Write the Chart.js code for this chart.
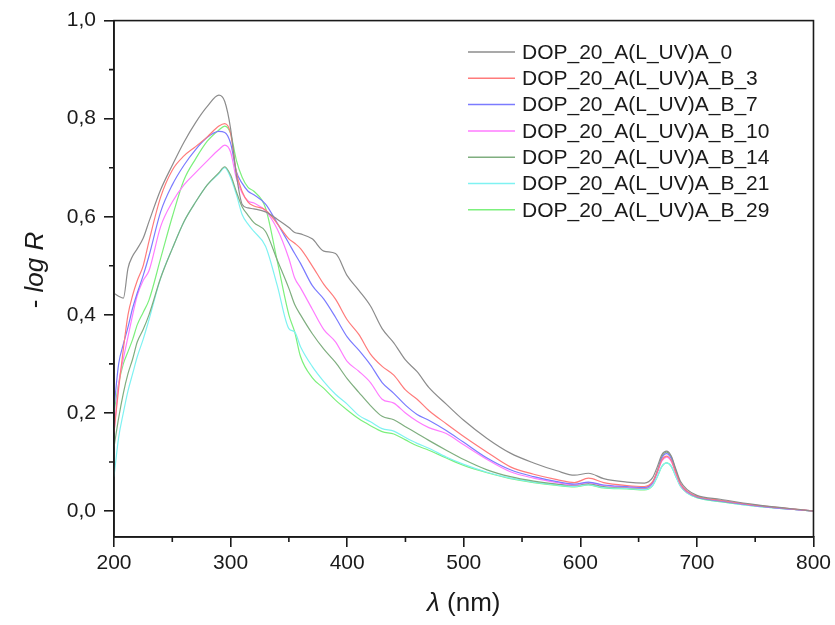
<!DOCTYPE html>
<html lang="en">
  <head>
    <meta charset="UTF-8" />
    <title>-log R spectra</title>
    <script src="https://cdn.jsdelivr.net/npm/chart.js"></script>
    <style>
      body {
        margin: 0;
        background: #fff;
      }
      #chart {
        display: block;
      }
    </style>
  </head>
  <body>
    <canvas id="chart" width="835" height="625"></canvas>

    <script>
      // wavelength grid (nm), shared by all series
      const wavelengths = [
        200, 204, 208, 212, 216, 220, 225, 230, 240, 250, 260, 270, 280, 290, 295, 300,
        305, 310, 315, 320, 330, 340, 350, 355, 360, 370, 380, 390, 400, 410, 420, 430,
        440, 450, 460, 470, 485, 500, 520, 540, 560, 580, 595, 607, 620, 640, 655, 662,
        666, 670, 674, 678, 682, 686, 692, 700, 720, 750, 800,
      ];

      const seriesNames = [
        "DOP_20_A(L_UV)A_0",
        "DOP_20_A(L_UV)A_B_3",
        "DOP_20_A(L_UV)A_B_7",
        "DOP_20_A(L_UV)A_B_10",
        "DOP_20_A(L_UV)A_B_14",
        "DOP_20_A(L_UV)A_B_21",
        "DOP_20_A(L_UV)A_B_29",
      ];

      const a0 = [
        0.444, 0.438, 0.434, 0.495, 0.52, 0.535, 0.556, 0.59, 0.655, 0.705, 0.752, 0.792, 0.825, 0.848, 0.835, 0.78,
        0.685, 0.625, 0.618, 0.616, 0.61, 0.595, 0.578, 0.568, 0.565, 0.555, 0.53, 0.525, 0.48, 0.45, 0.418, 0.372,
        0.343, 0.308, 0.284, 0.252, 0.218, 0.185, 0.148, 0.118, 0.098, 0.082, 0.073, 0.077, 0.066, 0.059, 0.057, 0.068,
        0.09, 0.115, 0.122, 0.112, 0.085, 0.06, 0.043, 0.032, 0.024, 0.013, 0.0,
      ];
      const b3 = [
        0.16, 0.25, 0.33, 0.4, 0.44, 0.47, 0.5, 0.55, 0.64, 0.695, 0.724, 0.743, 0.763, 0.785, 0.79, 0.77,
        0.69, 0.651, 0.63, 0.622, 0.614, 0.586, 0.555, 0.546, 0.535, 0.5, 0.462, 0.432, 0.39, 0.36, 0.32, 0.295,
        0.277, 0.247, 0.228, 0.205, 0.178, 0.152, 0.12, 0.09, 0.075, 0.064, 0.058, 0.067, 0.058, 0.052, 0.05, 0.06,
        0.08, 0.104, 0.112, 0.103, 0.078, 0.055, 0.04, 0.03, 0.022, 0.012, 0.0,
      ];
      const b7 = [
        0.21, 0.3, 0.34, 0.375, 0.414, 0.445, 0.48, 0.52, 0.61, 0.665, 0.705, 0.737, 0.762, 0.774, 0.772, 0.75,
        0.692, 0.668, 0.652, 0.645, 0.626, 0.587, 0.546, 0.525, 0.505, 0.46, 0.432, 0.395, 0.355, 0.328, 0.298, 0.262,
        0.24, 0.216, 0.197, 0.185, 0.164, 0.14, 0.108, 0.084, 0.07, 0.06, 0.055, 0.059, 0.053, 0.05, 0.048, 0.058,
        0.08, 0.108, 0.117, 0.107, 0.08, 0.055, 0.039, 0.029, 0.021, 0.011, 0.0,
      ];
      const b10 = [
        0.16, 0.26, 0.31, 0.355, 0.4, 0.44, 0.47, 0.49, 0.58, 0.63, 0.665, 0.69, 0.714, 0.737, 0.746, 0.732,
        0.678, 0.648, 0.632, 0.628, 0.612, 0.575, 0.515, 0.475, 0.455, 0.412, 0.37, 0.345, 0.305, 0.285, 0.262, 0.228,
        0.22, 0.2, 0.183, 0.17, 0.158, 0.135, 0.105, 0.08, 0.067, 0.058, 0.053, 0.058, 0.052, 0.049, 0.047, 0.057,
        0.078, 0.102, 0.11, 0.101, 0.076, 0.053, 0.038, 0.029, 0.021, 0.011, 0.0,
      ];
      const b14 = [
        0.13, 0.19, 0.24, 0.28, 0.31, 0.345, 0.37, 0.4, 0.475, 0.535, 0.59, 0.63, 0.665, 0.69, 0.702, 0.685,
        0.651, 0.62, 0.603, 0.588, 0.57, 0.512, 0.454, 0.421, 0.4, 0.362, 0.33, 0.303, 0.27, 0.242, 0.215, 0.193,
        0.186, 0.172, 0.158, 0.144, 0.124, 0.105, 0.084, 0.07, 0.061, 0.055, 0.052, 0.056, 0.05, 0.048, 0.046, 0.058,
        0.082, 0.111, 0.12, 0.11, 0.082, 0.054, 0.038, 0.028, 0.02, 0.011, 0.0,
      ];
      const b21 = [
        0.07, 0.15, 0.2, 0.245, 0.28, 0.315, 0.35, 0.39, 0.475, 0.535, 0.59, 0.63, 0.665, 0.688, 0.7, 0.68,
        0.645, 0.604, 0.585, 0.57, 0.54, 0.46, 0.372, 0.365, 0.335, 0.295, 0.264, 0.238, 0.218, 0.195, 0.182, 0.168,
        0.163, 0.15, 0.138, 0.128, 0.11, 0.095, 0.079, 0.067, 0.059, 0.053, 0.05, 0.054, 0.048, 0.046, 0.044, 0.052,
        0.07, 0.091, 0.098, 0.091, 0.07, 0.05, 0.036, 0.027, 0.019, 0.01, 0.0,
      ];
      const b29 = [
        0.2, 0.26, 0.3, 0.325, 0.35, 0.38, 0.405, 0.43, 0.515, 0.6, 0.675, 0.718, 0.754, 0.777, 0.785, 0.77,
        0.715, 0.68, 0.66, 0.652, 0.618, 0.51, 0.4, 0.365, 0.315, 0.272, 0.25, 0.226, 0.206, 0.188, 0.174, 0.162,
        0.157, 0.145, 0.133, 0.124, 0.108, 0.093, 0.078, 0.066, 0.058, 0.052, 0.049, 0.053, 0.047, 0.045, 0.043, 0.052,
        0.07, 0.091, 0.098, 0.091, 0.07, 0.05, 0.036, 0.027, 0.019, 0.01, 0.0,
      ];

      const allSeries = [a0, b3, b7, b10, b14, b21, b29];
      const lineColors = ["#8c8c8c", "#ff7b7b", "#7b7bff", "#ff7bff", "#7fae7f", "#7ff2f2", "#7cf07c"];

      const xTicks = [200, 300, 400, 500, 600, 700, 800];
      const xMinorTicks = [250, 350, 450, 550, 650, 750];
      const yTicks = [0, 0.2, 0.4, 0.6, 0.8, 1.0];
      const yMinorTicks = [0.1, 0.3, 0.5, 0.7, 0.9];

      const FONT = '"Liberation Sans", Arial, sans-serif';
      const INK = "#1a1a1a";

      // frame, minor ticks, axis titles and legend
      const decorPlugin = {
        id: "decor",
        afterDraw(chart) {
          const { ctx, chartArea: a } = chart;
          const x = chart.scales.x;
          const y = chart.scales.y;
          ctx.save();
          ctx.strokeStyle = INK;
          ctx.lineWidth = 1.6;
          ctx.strokeRect(a.left, a.top, a.right - a.left, a.bottom - a.top);

          ctx.beginPath();
          xMinorTicks.forEach((v) => {
            const px = x.getPixelForValue(v);
            ctx.moveTo(px, a.bottom);
            ctx.lineTo(px, a.bottom + 5);
          });
          yMinorTicks.forEach((v) => {
            const py = y.getPixelForValue(v);
            ctx.moveTo(a.left, py);
            ctx.lineTo(a.left - 5, py);
          });
          ctx.stroke();

          ctx.fillStyle = INK;
          ctx.textBaseline = "middle";

          // x title: italic lambda + " (nm)"
          const normal = "26px " + FONT;
          const italic = "italic 26px " + FONT;
          ctx.font = italic;
          const wl = ctx.measureText("\u03bb").width;
          ctx.font = normal;
          const wr = ctx.measureText(" (nm)").width;
          let sx = (a.left + a.right) / 2 - (wl + wr) / 2;
          ctx.textAlign = "left";
          ctx.font = italic;
          ctx.fillText("\u03bb", sx, 604);
          ctx.font = normal;
          ctx.fillText(" (nm)", sx + wl, 604);

          // y title: "- " + italic "log R"
          ctx.save();
          ctx.translate(36, 270);
          ctx.rotate(-Math.PI / 2);
          ctx.font = normal;
          const w1 = ctx.measureText("- ").width;
          ctx.font = italic;
          const w2 = ctx.measureText("log R").width;
          sx = -(w1 + w2) / 2;
          ctx.font = normal;
          ctx.fillText("- ", sx, 0);
          ctx.font = italic;
          ctx.fillText("log R", sx + w1, 0);
          ctx.restore();

          // legend
          ctx.font = "21px " + FONT;
          chart.data.datasets.forEach((ds, i) => {
            const ly = 52 + i * 26.3;
            ctx.strokeStyle = ds.borderColor;
            ctx.lineWidth = 1.5;
            ctx.beginPath();
            ctx.moveTo(468, ly);
            ctx.lineTo(515, ly);
            ctx.stroke();
            ctx.fillStyle = INK;
            ctx.fillText(ds.label, 522, ly + 1);
          });
          ctx.restore();
        },
      };

      const ctx = document.getElementById("chart").getContext("2d");

      new Chart(ctx, {
        type: "line",
        data: {
          datasets: allSeries.map((vals, i) => ({
            label: seriesNames[i],
            data: wavelengths.map((w, j) => ({ x: w, y: vals[j] })),
            borderColor: lineColors[i],
            borderWidth: 1.2,
            pointRadius: 0,
            cubicInterpolationMode: "monotone",
            fill: false,
          })),
        },
        options: {
          responsive: false,
          animation: false,
          layout: { padding: { top: 18, right: 19, left: 0, bottom: 0 } },
          plugins: {
            legend: { display: false },
            tooltip: { enabled: false },
          },
          scales: {
            x: {
              type: "linear",
              min: 200,
              max: 800,
              afterBuildTicks: (s) => {
                s.ticks = xTicks.map((v) => ({ value: v }));
              },
              afterFit: (s) => {
                s.height = 88;
              },
              ticks: {
                color: INK,
                font: { family: FONT, size: 21 },
                padding: 4,
                maxRotation: 0,
                autoSkip: false,
              },
              grid: {
                drawOnChartArea: false,
                tickLength: 10,
                tickColor: INK,
                lineWidth: 1.6,
              },
              border: { display: true, color: INK, width: 1.6 },
            },
            y: {
              min: -0.053,
              max: 1.0,
              afterBuildTicks: (s) => {
                s.ticks = yTicks.map((v) => ({ value: v }));
              },
              afterFit: (s) => {
                s.width = 114;
              },
              ticks: {
                color: INK,
                font: { family: FONT, size: 21 },
                padding: 8,
                autoSkip: false,
                callback: (v) => v.toFixed(1).replace(".", ","),
              },
              grid: {
                drawOnChartArea: false,
                tickLength: 10,
                tickColor: INK,
                lineWidth: 1.6,
              },
              border: { display: true, color: INK, width: 1.6 },
            },
          },
        },
        plugins: [decorPlugin],
      });
    </script>
  </body>
</html>
